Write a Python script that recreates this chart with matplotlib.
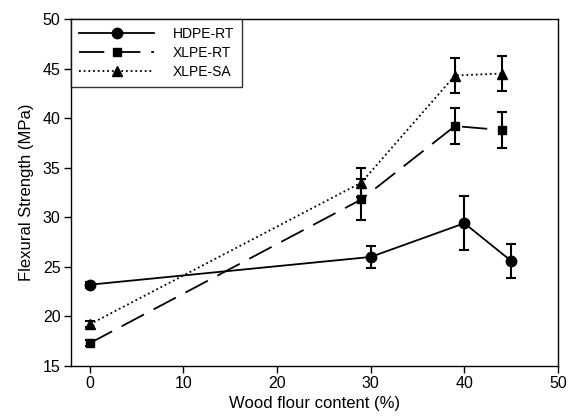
import matplotlib
matplotlib.use("Agg")
import matplotlib.pyplot as plt
from matplotlib.lines import Line2D

plt.rcParams['font.family'] = ['Liberation Sans', 'DejaVu Sans']

hdpe_x = [0, 30, 40, 45]
hdpe_y = [23.2, 26.0, 29.4, 25.6]
hdpe_err = [0.3, 1.15, 2.75, 1.75]

xrt_x = [0, 29, 39, 44]
xrt_y = [17.3, 31.8, 39.2, 38.8]
xrt_err = [0.3, 2.1, 1.8, 1.85]

xsa_x = [0, 29, 39, 44]
xsa_y = [19.2, 33.5, 44.3, 44.5]
xsa_err = [0.3, 1.5, 1.8, 1.8]

labels = ['HDPE-RT', 'XLPE-RT', 'XLPE-SA']
xticks = [0, 10, 20, 30, 40, 50]
yticks = [15, 20, 25, 30, 35, 40, 45, 50]

fig = plt.figure(figsize=(5.68, 4.17), dpi=100)
ax = fig.add_axes([71/568, 1-366/417, (558-71)/568, (366-19)/417])

styles = [
    dict(marker='o', ms=7.5, ls='-'),
    dict(marker='s', ms=6, ls=(0, (14, 6))),
    dict(marker='^', ms=6.5, ls=(0, (1, 1.6))),
]
common = dict(color='black', ecolor='black', elinewidth=1.5, capsize=3.5, capthick=1.5, lw=1.3)
handles = []
for (xs, ys, es), st, lab in zip([(hdpe_x, hdpe_y, hdpe_err), (xrt_x, xrt_y, xrt_err), (xsa_x, xsa_y, xsa_err)], styles, labels):
    ax.errorbar(xs, ys, yerr=es, **st, **common)
    handles.append(Line2D([], [], color='black', lw=1.3, label=lab, **st))

ax.set_xlim(-2, 50)
ax.set_ylim(15, 50)
ax.set_xticks(xticks)
ax.set_yticks(yticks)
ax.tick_params(direction='out', length=5, width=1, labelsize=11.5, pad=2.5, top=False, right=False)
for s in ax.spines.values():
    s.set_linewidth(1)
ax.set_xlabel('Wood flour content (%)', fontsize=12, labelpad=3)
ax.set_ylabel('Flexural Strength (MPa)', fontsize=12, labelpad=6)

leg = ax.legend(handles=handles, loc='upper left', borderaxespad=0, frameon=True, fancybox=False,
                edgecolor='black', fontsize=10, handlelength=5.4, handletextpad=1.3,
                labelspacing=0.35, borderpad=0.6)
leg.get_frame().set_linewidth(1)

fig.savefig('out.png', dpi=100)
